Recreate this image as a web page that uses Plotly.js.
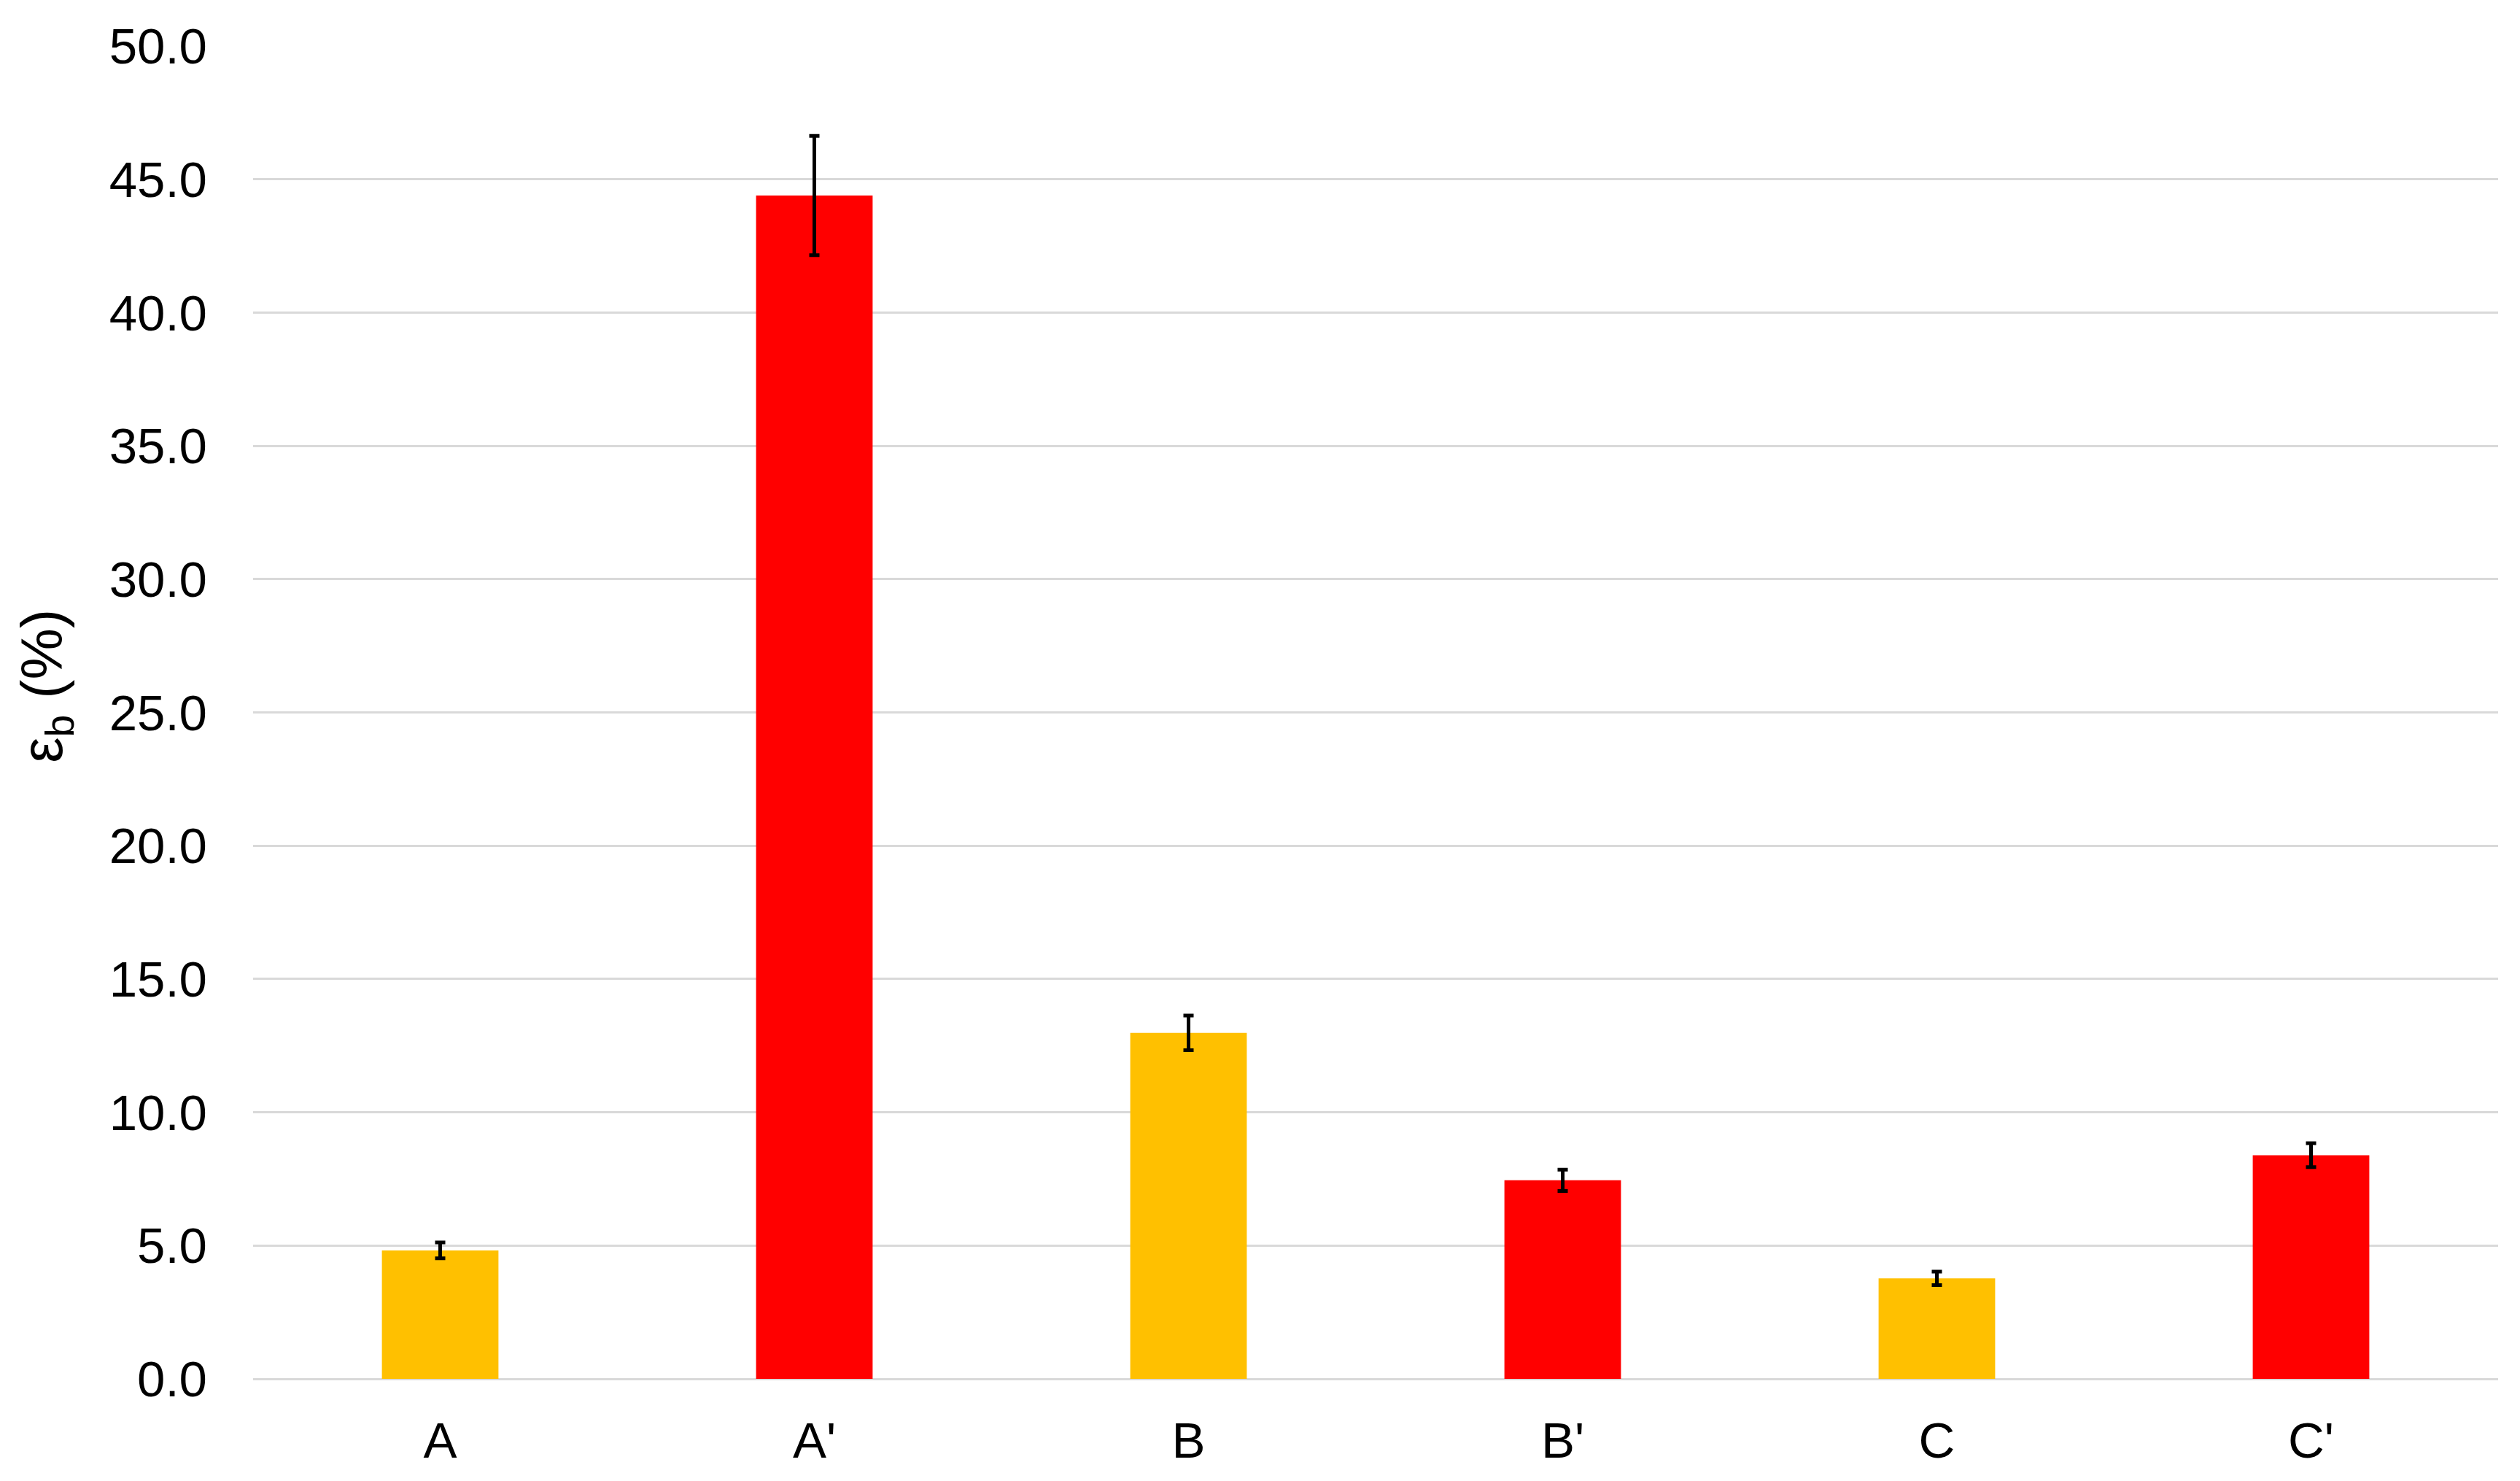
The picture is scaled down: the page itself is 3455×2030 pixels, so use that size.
<!DOCTYPE html>
<html>
<head>
<meta charset="utf-8">
<script src="https://cdn.plot.ly/plotly-3.0.1.min.js"></script>
<style>
  html, body { margin: 0; padding: 0; background: #fff; }
  #chart { width: 3455px; height: 2030px; }
</style>
</head>
<body>
<div id="chart"></div>
<script>
// samples and elongation at break
var samples = ["A", "A'", "B", "B'", "C", "C'"];
var elongation = [4.82, 44.39, 12.98, 7.45, 3.77, 8.39];
var elongationErr = [0.30, 2.24, 0.65, 0.40, 0.25, 0.45];

var yellow = "#FFC000";
var red = "#FF0000";
var barColors = samples.map(function(s) {
    return s.indexOf("'") >= 0 ? red : yellow;
});

var trace = [{
    x: samples,
    y: elongation,
    type: "bar",
    marker: {color: barColors},
    error_y: {
        type: "data",
        array: elongationErr,
        visible: true,
        color: "#000000",
        thickness: 5,
        width: 7
    },
    hoverinfo: "x+y"
}];

var tickFont = {family: "Liberation Sans, Arial, sans-serif", size: 69, color: "#000000"};
var titleFont = {family: "Liberation Sans, Arial, sans-serif", size: 79, color: "#000000"};

var layout = {
    width: 3455,
    height: 2030,
    margin: {l: 347, r: 30, t: 63, b: 140},
    paper_bgcolor: "#ffffff",
    plot_bgcolor: "#ffffff",
    bargap: 0.6885,
    showlegend: false,
    font: tickFont,
    xaxis: {
        type: "category",
        tickfont: tickFont,
        showgrid: false,
        showline: false,
        ticks: "",
        ticklabelstandoff: 38
    },
    yaxis: {
        range: [0, 50],
        dtick: 5,
        tickformat: ".1f",
        tickfont: tickFont,
        showgrid: true,
        gridcolor: "#d9d9d9",
        gridwidth: 3,
        zeroline: true,
        zerolinecolor: "#d9d9d9",
        zerolinewidth: 3,
        showline: false,
        ticks: "",
        ticklabelstandoff: 62
    },
    // y-axis title as a rotated annotation so it can sit a bit above centre, like the original
    annotations: [{
        text: "ε<sub>b</sub> (%)",
        font: titleFont,
        textangle: -90,
        xref: "paper",
        yref: "paper",
        x: -0.092,
        y: 0.52,
        xanchor: "center",
        yanchor: "middle",
        showarrow: false
    }]
};

Plotly.newPlot("chart", trace, layout, {staticPlot: true});
</script>
</body>
</html>
